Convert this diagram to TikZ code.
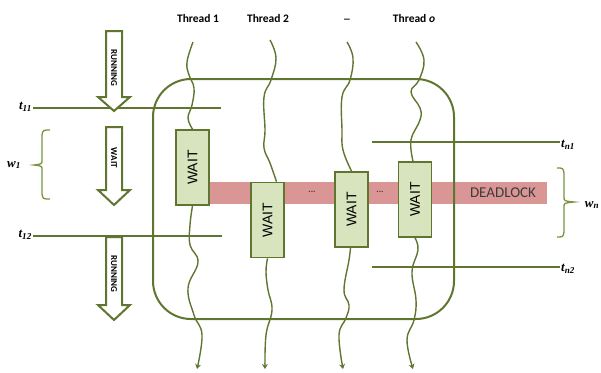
\documentclass[tikz,border=0pt]{standalone}
\usepackage{fontspec}
\setmainfont{Carlito}
\newfontfamily\arialf{Liberation Sans}
\newfontfamily\seriff{Liberation Serif}
\usetikzlibrary{arrows.meta,calc}
\definecolor{olivec}{RGB}{95,117,48}
\definecolor{bracec}{RGB}{119,147,60}
\definecolor{bandc}{RGB}{217,150,148}
\definecolor{boxc}{RGB}{215,228,189}
\definecolor{textc}{RGB}{60,60,60}
\tikzset{
  thread/.style={draw=olivec, line width=1.4pt},
  threadend/.style={thread, -{Stealth[length=5pt,width=6pt]}},
  tline/.style={draw=olivec, line width=1.8pt},
  waitbox/.style={draw=olivec, fill=boxc, line width=1.8pt, minimum width=33pt, minimum height=75pt, inner sep=0pt},
  waittext/.style={font=\arialf\fontsize{14}{14}\selectfont, text=black, rotate=90},
  blockarrow/.style={draw=olivec, fill=white, line width=2pt, line join=miter},
  arrowtext/.style={font=\bfseries\fontsize{9}{9}\selectfont, rotate=-90, inner sep=0pt},
  tlabel/.style={font=\seriff\bfseries\itshape\fontsize{13}{13}\selectfont, inner sep=1pt},
  thlabel/.style={font=\bfseries\fontsize{11.5}{11.5}\selectfont, inner sep=0pt},
  bracket/.style={draw=bracec, line width=1.3pt},
}
\begin{document}
\begin{tikzpicture}[x=1pt,y=-1pt]
\useasboundingbox (0,0) rectangle (601,372);

% thread labels
\node[thlabel] (th1) at (198,19) {Thread 1};
\node[thlabel] (th2) at (268,19) {Thread 2};
\node[thlabel] (th3) at (347,19) {\_};
\node[thlabel] (thn) at (414,19) {Thread \textit{o}};

% band
\node[fill=bandc, minimum width=337pt, minimum height=22pt, inner sep=0pt] (band) at (378.5,193) {};
\node[font=\fontsize{15}{15}\selectfont, text=textc] (dl) at (503,193) {DEADLOCK};
\node[font=\bfseries\fontsize{9}{9}\selectfont, text=textc] (d1) at (312,192) {...};
\node[font=\bfseries\fontsize{9}{9}\selectfont, text=textc] (d2) at (380,192) {...};

% region
\node[draw=olivec, line width=2pt, rounded corners=38pt, minimum width=301pt, minimum height=240pt, inner sep=0pt] (region) at (303.5,199) {};

% wait boxes
\node[waitbox] (w1) at (192.5,167.5) {};
\node[waittext] at (w1) {WAIT};
\node[waitbox] (w2) at (267.5,220) {};
\node[waittext] at (w2) {WAIT};
\node[waitbox] (w3) at (351.5,209.5) {};
\node[waittext] at (w3) {WAIT};
\node[waitbox] (w4) at (415,199.5) {};
\node[waittext] at (w4) {WAIT};

% threads
\draw[thread] plot[smooth, tension=0.7] coordinates {(193,42) (187,62) (189,75) (194,88) (192,105) (188,118) (w1.north)};
\draw[threadend] plot[smooth, tension=0.7] coordinates {(w1.south) (190,225) (190,245) (198,262) (188,288) (194,315) (202,335) (197,369)};
\draw[thread] plot[smooth, tension=0.7] coordinates {(270,40) (276,58) (271,80) (264,97) (265,130) (264,148) (270,163) ([xshift=9pt]w2.north)};
\draw[threadend] plot[smooth, tension=0.7] coordinates {(w2.south) (266,272) (268,290) (272,310) (266,335) (265,369)};
\draw[thread] plot[smooth, tension=0.7] coordinates {(347,42) (353,58) (350,80) (342,97) (342,130) (343,150) (w3.north)};
\draw[threadend] plot[smooth, tension=0.7] coordinates {([xshift=-1pt]w3.south) (349,260) (344,290) (349,305) (346,318) (339,335) (343,369)};
\draw[thread] plot[smooth, tension=0.7] coordinates {(416,42) (424,60) (419,80) (411,92) (420,108) (420,120) (411,140) ([xshift=-2pt]w4.north)};
\draw[threadend] plot[smooth, tension=0.7] coordinates {(w4.south) (418,250) (412,272) (416,300) (414,320) (407,340) (413,369)};

% time labels and lines
\node[tlabel, anchor=east] (t11) at (33,107) {t\textsubscript{11}};
\node[tlabel, anchor=east] (t12) at (33,235) {t\textsubscript{12}};
\node[tlabel] (w1l) at (14,165) {w\textsubscript{1}};
\node[tlabel, anchor=west] (tn1) at (560,145) {t\textsubscript{n1}};
\node[tlabel, anchor=west] (tn2) at (560,269) {t\textsubscript{n2}};
\node[tlabel] (wnl) at (592,205) {w\textsubscript{n}};
\coordinate (t11e) at (221,108);
\coordinate (t12e) at (222,236);
\coordinate (tn1s) at (372,142);
\coordinate (tn2s) at (372,267);
\draw[tline] (t11e) -- (t11e -| t11.east);
\draw[tline] (t12e) -- (t12e -| t12.east);
\draw[tline] (tn1s) -- (tn1s -| tn1.west);
\draw[tline] (tn2s) -- (tn2s -| tn2.west);

% brackets
\draw[bracket] (50,130) .. controls (43,130) .. (42,135) -- (42,160) .. controls (42,164) .. (34,165) .. controls (42,166) .. (42,170) -- (42,194) .. controls (43,199) .. (50,199);
\draw[bracket] (557,168) .. controls (563,168) .. (564,173) -- (564,197) .. controls (564,201) .. (574,202) .. controls (564,203) .. (564,207) -- (564,232) .. controls (563,237) .. (557,237);

% block arrows
\draw[blockarrow] (106,31) -- (106,97) -- (98,97) -- (114,111) -- (130,97) -- (122,97) -- (122,31) -- cycle;
\node[arrowtext] (a1) at (114,68) {RUNNING};
\draw[blockarrow] (106,127) -- (106,190) -- (98,190) -- (114,205) -- (130,190) -- (122,190) -- (122,127) -- cycle;
\node[arrowtext] (a2) at (114,158) {WAIT};
\draw[blockarrow] (106,237) -- (106,305) -- (98,305) -- (114,320) -- (130,305) -- (122,305) -- (122,237) -- cycle;
\node[arrowtext] (a3) at (114,274) {RUNNING};
\end{tikzpicture}
\end{document}
